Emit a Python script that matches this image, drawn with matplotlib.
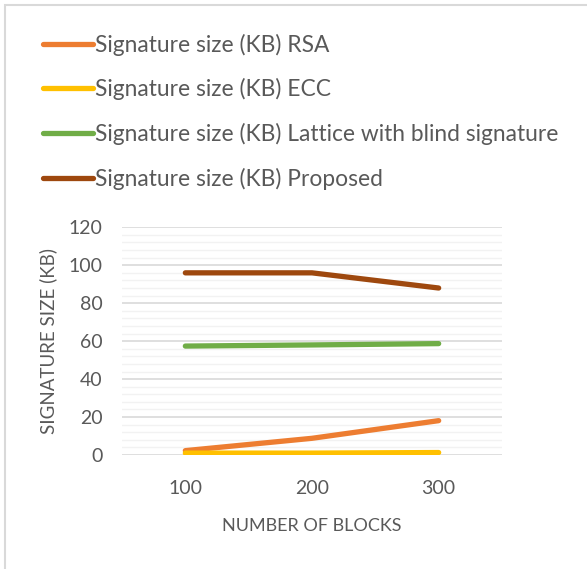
import matplotlib
matplotlib.use("Agg")
import matplotlib.pyplot as plt
from matplotlib.patches import Rectangle
from matplotlib.ticker import MultipleLocator

categories = ["100", "200", "300"]
rsa = [2.3, 8.8, 18.1]
ecc = [1.0, 1.0, 1.3]
lattice = [57.4, 58.0, 58.7]
proposed = [96.0, 96.0, 88.0]
series_names = ["Signature size (KB) RSA", "Signature size (KB) ECC",
                "Signature size (KB) Lattice with blind signature",
                "Signature size (KB) Proposed"]
colors = ["#ED7D31", "#FFC000", "#70AD47", "#9E480E"]

plt.rcParams['font.family'] = ['Lato', 'DejaVu Sans']
txt = "#595959"

fig = plt.figure(figsize=(5.87, 5.69), dpi=100)
ax = fig.add_axes([122/587, 1-455/569, (502-122)/587, (455-227.3)/569])

x = range(len(categories))
handles = []
for vals, c, n in zip([rsa, ecc, lattice, proposed], colors, series_names):
    h, = ax.plot(x, vals, color=c, lw=3.8, solid_capstyle='round',
                 solid_joinstyle='round', label=n, zorder=3)
    handles.append(h)

ax.set_xlim(-0.5, 2.5)
ax.set_ylim(0, 120)
ax.set_xticks(list(x))
ax.set_xticklabels(categories)
ax.yaxis.set_major_locator(MultipleLocator(20))
ax.yaxis.set_minor_locator(MultipleLocator(4))
ax.grid(axis='y', which='major', color='#D9D9D9', lw=1.2)
ax.grid(axis='y', which='minor', color='#F2F2F2', lw=1.0)
ax.set_axisbelow(True)
for s in ax.spines.values():
    s.set_visible(False)
ax.tick_params(axis='both', which='both', length=0, labelsize=14, labelcolor=txt)
ax.tick_params(axis='x', pad=18)
ax.tick_params(axis='y', pad=14)
ax.set_xlabel("NUMBER OF BLOCKS", fontsize=13, color=txt, labelpad=15)
ax.set_ylabel("SIGNATURE SIZE (KB)", fontsize=13.5, color=txt, labelpad=8)

leg = fig.legend(handles=handles, loc='upper left', bbox_to_anchor=(22/587, 1-13/569),
                 frameon=False, fontsize=16.4, handlelength=2.2, handletextpad=0.1,
                 labelspacing=1.0, labelcolor=txt)

fig.patches.append(Rectangle((5/587, -0.1), 1.2, 1-5/569+0.1, transform=fig.transFigure,
                             fill=False, edgecolor='#D9D9D9', lw=1.5))

fig.savefig("out.png", dpi=100, facecolor='white')
